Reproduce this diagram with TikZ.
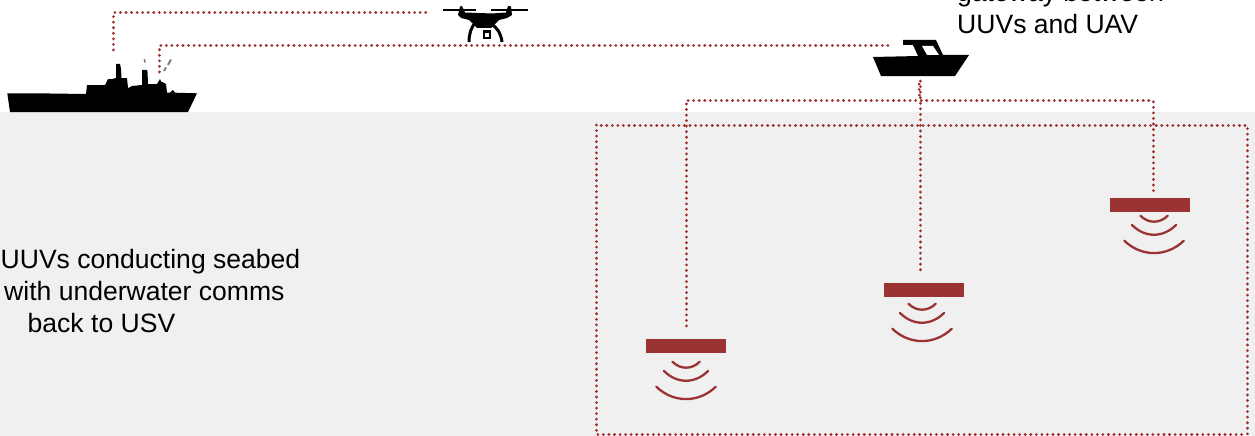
\documentclass[tikz,border=0pt]{standalone}
\usepackage{fontspec}
\setmainfont{Liberation Sans}
\definecolor{linkred}{HTML}{9E2F2F}
\definecolor{barred}{HTML}{9C3333}
\definecolor{panelgrey}{HTML}{F0F0F0}
\tikzset{
  link/.style={draw=linkred,line width=3pt,line cap=round,dash pattern=on 0.1pt off 5.45pt},
  silhouette/.style={fill=black,draw=none},
  uuvbar/.style={fill=barred,draw=none,minimum width=80pt,minimum height=14pt,inner sep=0pt,outer sep=0pt},
  ping/.style={draw=barred,line width=2.3pt,line cap=round},
  label/.style={font=\fontsize{26.55}{32}\selectfont,text=black,inner sep=0pt,anchor=base west}
}
\newcommand{\pings}[1]{%
  \draw[ping] (#1) ++(-13.6,15.7) .. controls +(8,8) and +(-8,8) .. ++(27.3,0);
  \draw[ping] (#1) ++(-22,25) .. controls +(13,13) and +(-13,13) .. ++(44,0);
  \draw[ping] (#1) ++(-29.7,40.7) .. controls +(17,16.5) and +(-17,16.5) .. ++(59.5,0);
}
\begin{document}
\begin{tikzpicture}[x=1pt,y=-1pt]
\useasboundingbox (0,0) rectangle (1255,436);
\clip (0,0) rectangle (1255,436);
\fill[panelgrey] (0,112) rectangle (1255,436);

% ship
\fill[silhouette] (7.3,93.3) -- (10,112) -- (188,112) -- (197,93.3) -- (175,92.7) -- (173,90) -- (170,92.5) -- (167,92.7)
 -- (166,84) -- (161,81.5) -- (160,79) -- (157,84) -- (148,84) -- (147.5,72) -- (147,70) -- (142,70) -- (142,73) -- (142,85)
 -- (132,86) -- (128,88) -- (127,78) -- (121.5,78) -- (121,69) -- (120,64) -- (116,64) -- (116,69) -- (116,78)
 -- (112,79) -- (108,79) -- (105,85) -- (87,85) -- (86,94) -- (50,93.5) -- cycle;
\draw[gray,line width=1.6pt] (144.5,59) -- (145,62.5);
\draw[gray,line width=2pt] (164,71) -- (166,67.5) (168,65) -- (171,59.5);

% drone
\fill[silhouette] (460,6.5) -- (462,6) -- (465,12.5) -- (492,13.5) -- (506,12.5) -- (508,6) -- (511,6.5) -- (512,15) -- (507,18) -- (499,20)
 -- (491,28) -- (477,28) -- (469,20) -- (461,18) -- (458,15) -- cycle;
\draw[black,line width=2.4pt] (443,10) -- (476,10) (491,10) -- (528,10);
\draw[black,line width=3pt] (476,22) .. controls (471,27) and (469,34) .. (469,42);
\draw[black,line width=3pt] (491,24) .. controls (498,28) and (501,34) .. (502,42);
\fill[black] (483,30) rectangle (491,39);
\fill[white] (485,33.5) rectangle (489,37);

% boat
\fill[silhouette] (873,57) -- (881,76) -- (955,76) -- (969,55) -- (943,55) -- (936,40) -- (903,40) -- (903,45)
 -- (913,45) -- (918,56) -- cycle;
\fill[white] (922,46) -- (933,46) -- (939,55) -- (927,55) -- cycle;

% UUVs
\node[uuvbar] (uuvA) at (686,346) {};
\node[uuvbar] (uuvB) at (924,290) {};
\node[uuvbar] (uuvC) at (1150,205) {};
\coordinate (pingA) at (686,346);
\coordinate (pingB) at (922,288);
\coordinate (pingC) at (1154,200);
\pings{pingA}
\pings{pingB}
\pings{pingC}

% connector ends
\coordinate (shipMast) at (159,72);
\coordinate (shipBow) at (113,50);
\coordinate (droneWest) at (428,13);
\coordinate (boatWest) at (890,46);
\coordinate (boatKeel) at (920,81);
\coordinate (hub) at (919.5,99);
\coordinate (endA) at (686,326);
\coordinate (endB) at (920,271);
\coordinate (endC) at (1153,191);

\draw[link] (shipBow) -- (113,13) -- (droneWest);
\draw[link] (shipMast) -- (159,46) -- (boatWest);
\draw[link] (boatKeel) -- (endB);
\draw[link] (endA) -- (686,100.5) -- (1153,100.5) -- (endC);
\draw[link] (919,84) -- (hub);
\draw[link] (596,125) rectangle (1247,434);

% text
\node[label] (gwA) at (957,1.5) {gateway between};
\node[label] (gwB) at (957,33.5) {UUVs and UAV};
\node[label] (tA) at (0.5,268) {UUVs conducting seabed};
\node[label] (tB) at (4,300) {with underwater comms};
\node[label] (tC) at (27.5,332) {back to USV};
\end{tikzpicture}
\end{document}
